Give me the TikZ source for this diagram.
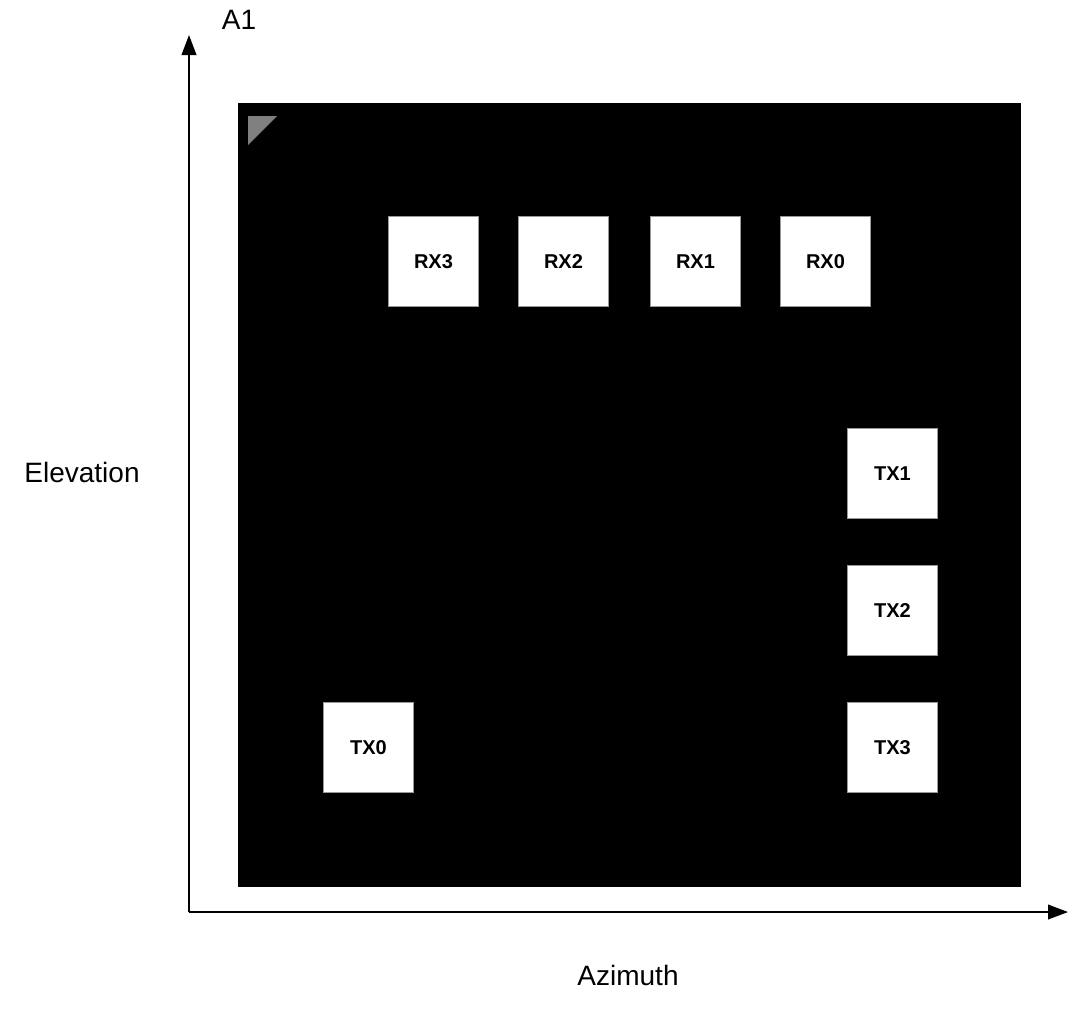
\documentclass[tikz,border=0pt]{standalone}
\usepackage{fontspec}
\setmainfont{Liberation Sans}
\usetikzlibrary{arrows.meta}
\begin{document}
\begin{tikzpicture}[x=0.75pt,y=-0.75pt,
  ant/.style={draw=gray!80,line width=0.8pt,fill=white,minimum width=67pt,minimum height=67pt,inner sep=0pt,font=\fontsize{15}{17}\selectfont\bfseries},
  axis/.style={line width=1.3pt,-{Triangle[length=15pt,width=11pt]}},
  lbl/.style={font=\fontsize{21}{24}\selectfont,inner sep=0pt}]
\useasboundingbox (0,0) rectangle (1070,1022);
\coordinate (o) at (189,912);
\coordinate (ytop) at (189,35);
\coordinate (xend) at (1068,912);
\draw[axis] (o) -- (ytop);
\draw[axis] (o) -- (xend);
\fill[black] (238,103) rectangle (1021,887);
\fill[gray] (248,116) -- (277,116) -- (248,145) -- cycle;
\node[ant] (rx3) at (433.5,261.5) {RX3};
\node[ant] (rx2) at (563.5,261.5) {RX2};
\node[ant] (rx1) at (695.5,261.5) {RX1};
\node[ant] (rx0) at (825.5,261.5) {RX0};
\node[ant] (tx1) at (892.5,473.5) {TX1};
\node[ant] (tx2) at (892.5,610.5) {TX2};
\node[ant] (tx3) at (892.5,747.5) {TX3};
\node[ant] (tx0) at (368.5,747.5) {TX0};
\node[lbl] (a1) at (239,20) {A1};
\node[lbl] (elev) at (82,472) {Elevation};
\node[lbl] (azim) at (628,975) {Azimuth};
\end{tikzpicture}
\end{document}
